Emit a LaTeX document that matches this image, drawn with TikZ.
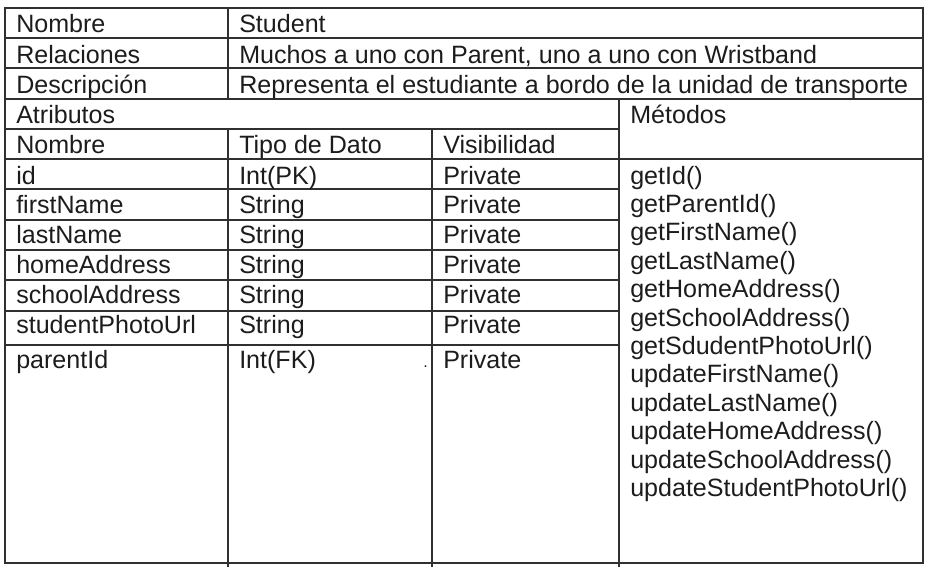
\documentclass[tikz,border=0pt]{standalone}
\usepackage{fontspec}
\setmainfont{Liberation Sans}
\usepackage{tikz}
\definecolor{ink}{HTML}{1C1C1C}
\definecolor{rule}{HTML}{303030}
\tikzset{
  cell/.style={anchor=base west, inner sep=0pt, text=ink,
    font=\fontsize{18.8}{20}\selectfont},
  grid/.style={draw=rule, line width=1pt}
}

\begin{document}
\begin{tikzpicture}[x=0.75pt, y=-0.75pt]
        \useasboundingbox (0,0) rectangle (930,571);

        \draw[grid] (5,8) rectangle (923,563);
        \draw[grid] (5,38) -- (923,38);
        \draw[grid] (5,68) -- (923,68);
        \draw[grid] (5,99) -- (923,99);
        \draw[grid] (5,129) -- (619,129);
        \draw[grid] (5,159) -- (923,159);
        \foreach \y in {189,220,250,280,311,345}
          \draw[grid] (5,\y) -- (619,\y);
        \draw[grid] (228,8) -- (228,99);
        \draw[grid] (228,129) -- (228,567);
        \draw[grid] (432,129) -- (432,567);
        \draw[grid] (619,99) -- (619,567);

        \node[cell] (nombre) at (16,32) {Nombre};
        \node[cell] (clase) at (239,32) {Student};
        \node[cell] (rel) at (16,63) {Relaciones};
        \node[cell] (reltxt) at (239,63) {Muchos a uno con Parent, uno a uno con Wristband};
        \node[cell] (desc) at (16,93) {Descripción};
        \node[cell] (desctxt) at (239,93) {Representa el estudiante a bordo de la unidad de transporte};
        \node[cell] (atr) at (16,123) {Atributos};
        \node[cell] (met) at (630,123) {Métodos};
        \node[cell] (hnom) at (16,153) {Nombre};
        \node[cell] (htipo) at (239,153) {Tipo de Dato};
        \node[cell] (hvis) at (443,153) {Visibilidad};

        \foreach \n/\t/\yy [count=\i] in {id/Int(PK)/184, firstName/String/213,
            lastName/String/243, homeAddress/String/273, schoolAddress/String/303,
            studentPhotoUrl/String/333, parentId/Int(FK)/368} {
          \node[cell] (a\i) at (16,\yy) {\n};
          \node[cell] (t\i) at (239,\yy) {\t};
          \node[cell] (v\i) at (443,\yy) {Private};
        }
        \node[cell, font=\fontsize{12}{12}\selectfont] (punto) at (423,367) {.};

        \foreach \m [count=\i from 0] in {getId(), getParentId(), getFirstName(),
            getLastName(), getHomeAddress(), getSchoolAddress(), getSdudentPhotoUrl(),
            updateFirstName(), updateLastName(), updateHomeAddress(),
            updateSchoolAddress(), updateStudentPhotoUrl()}
          \node[cell] (m\i) at (630,184+28.4*\i) {\m};
\end{tikzpicture}
\end{document}
